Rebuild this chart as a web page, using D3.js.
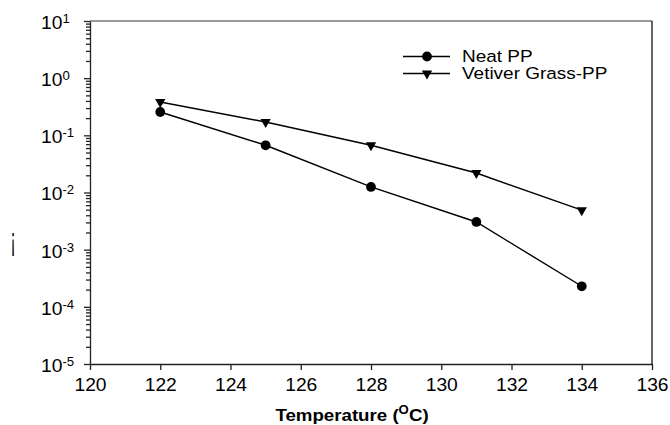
<!DOCTYPE html>
<html>
<head>
<meta charset="utf-8">
<script src="https://cdn.jsdelivr.net/npm/d3@7"></script>
<style>
  body { margin: 0; background: #fff; }
  text { font-family: 'Liberation Sans', Arial, sans-serif; fill: #000; }
</style>
</head>
<body>
<div id="chart"></div>
<script>
const temps = [122, 125, 128, 131, 134]
const neatPP = [0.256, 0.067, 0.0125, 0.00305, 0.000229]
const vetiverPP = [0.383, 0.171, 0.067, 0.0219, 0.0049]
const seriesNames = ['Neat PP', 'Vetiver Grass-PP']
const xTicks = [120, 122, 124, 126, 128, 130, 132, 134, 136]
const yExponents = [-5, -4, -3, -2, -1, 0, 1]

const margin = { top: 21, left: 90, right: 18, bottom: 61 }
const width = 670 - margin.left - margin.right
const height = 425 - margin.top - margin.bottom
const sx = 1.1 // the reference text is a bit wide

const svg = d3
  .select('#chart')
  .append('svg')
  .attr('width', 670)
  .attr('height', 425)

const g = svg
  .append('g')
  .attr('transform', 'translate(' + margin.left + ',' + margin.top + ')')

const xPositionScale = d3.scaleLinear().domain([120, 136]).range([0, width])
const yPositionScale = d3.scaleLog().domain([1e-5, 10]).range([height, 0])

// frame: top and right sides
g.append('line')
  .attr('x1', 0).attr('x2', width).attr('y1', 0).attr('y2', 0)
  .attr('stroke', '#777').attr('stroke-width', 1.5)
g.append('line')
  .attr('x1', width).attr('x2', width).attr('y1', 0).attr('y2', height)
  .attr('stroke', '#111').attr('stroke-width', 1.3)

// minor y ticks
const minors = []
yExponents.slice(0, -1).forEach(e => {
  for (let m = 2; m <= 9; m++) minors.push(m * Math.pow(10, e))
})
g.append('g')
  .attr('class', 'axis y-minor')
  .call(d3.axisLeft(yPositionScale).tickValues(minors).tickSize(4).tickFormat(''))
  .call(a => a.select('.domain').remove())

// major y ticks with superscript labels
const yAxis = g.append('g')
  .attr('class', 'axis y-axis')
  .call(d3.axisLeft(yPositionScale)
    .tickValues(yExponents.map(e => Math.pow(10, e)))
    .tickSize(6)
    .tickSizeOuter(0)
    .tickFormat(''))

yAxis.selectAll('.tick').each(function(d) {
  const t = d3.select(this).append('text')
    .attr('transform', 'translate(-49,0) scale(' + sx + ',1)')
    .attr('dy', '0.42em')
    .attr('text-anchor', 'start')
    .attr('font-size', 17.5)
    .attr('fill', '#000')
  t.append('tspan').text('10')
  t.append('tspan')
    .attr('font-size', 12)
    .attr('dy', '-0.5em')
    .text(Math.round(Math.log10(d)))
})

const xAxis = g.append('g')
  .attr('class', 'axis x-axis')
  .attr('transform', 'translate(0,' + height + ')')
  .call(d3.axisBottom(xPositionScale).tickValues(xTicks).tickSize(6).tickSizeOuter(0))

xAxis.selectAll('text')
  .attr('font-size', 17.5)
  .attr('dy', '1.05em')
  .attr('transform', 'scale(' + sx + ',1)')

svg.selectAll('.axis .domain, .axis line')
  .attr('stroke', '#222')
  .attr('stroke-width', 1.3)

// axis titles
const xTitle = svg.append('text')
  .attr('transform', 'translate(352,421) scale(' + sx + ',1)')
  .attr('text-anchor', 'middle')
  .attr('font-size', 17)
  .attr('font-weight', 'bold')
xTitle.append('tspan').text('Temperature (')
xTitle.append('tspan').attr('font-size', 12).attr('dy', '-0.55em').text('O')
xTitle.append('tspan').attr('dy', '0.4em').text('C)')

svg.append('text')
  .attr('transform', 'translate(13,251) scale(0.45,1)')
  .attr('text-anchor', 'middle')
  .attr('font-size', 34)
  .text('¡')

// series
const series = [
  { name: seriesNames[0], values: neatPP, symbol: d3.symbol().type(d3.symbolCircle).size(75), rotate: 0 },
  { name: seriesNames[1], values: vetiverPP, symbol: d3.symbol().type(d3.symbolTriangle).size(46), rotate: 180 }
]

const line = d3.line()
  .x(d => xPositionScale(d.t))
  .y(d => yPositionScale(d.v))

series.forEach(s => {
  const points = temps.map((t, i) => ({ t: t, v: s.values[i] }))
  g.append('path')
    .datum(points)
    .attr('d', line)
    .attr('fill', 'none')
    .attr('stroke', '#000')
    .attr('stroke-width', 1.4)

  g.selectAll('.pt-' + s.rotate)
    .data(points)
    .enter()
    .append('path')
    .attr('d', s.symbol)
    .attr('transform', d => 'translate(' + xPositionScale(d.t) + ',' + yPositionScale(d.v) + ') rotate(' + s.rotate + ')')
    .attr('fill', '#000')
})

// legend
const legend = svg.append('g').attr('transform', 'translate(403,56.5)')

legend.selectAll('.legend-entry')
  .data(series)
  .enter()
  .append('g')
  .attr('class', 'legend-entry')
  .attr('transform', (d, i) => `translate(0,${i * 17})`)
  .each(function(d) {
    const e = d3.select(this)
    e.append('line')
      .attr('x1', 0).attr('x2', 47)
      .attr('stroke', '#000').attr('stroke-width', 1.4)
    e.append('path')
      .attr('d', d.symbol)
      .attr('transform', 'translate(24,0) rotate(' + d.rotate + ')')
      .attr('fill', '#000')
    e.append('text')
      .text(d.name)
      .attr('transform', 'translate(59,0) scale(1.15,1)')
      .attr('dy', '0.36em')
      .attr('font-size', 16.5)
  })
</script>
</body>
</html>
